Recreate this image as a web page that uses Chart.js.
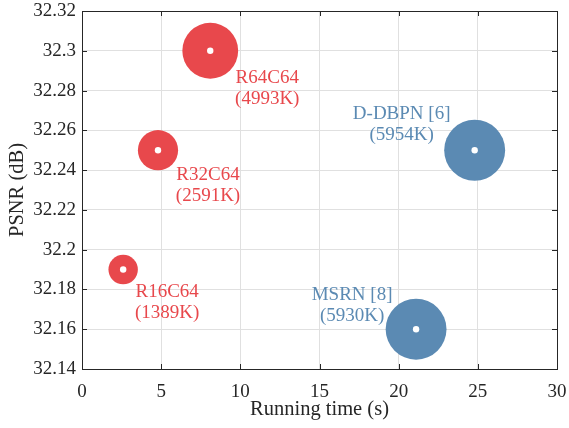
<!DOCTYPE html>
<html>
<head>
<meta charset="utf-8">
<script src="https://cdn.jsdelivr.net/npm/chart.js@4/dist/chart.umd.min.js"></script>
<style>
  html, body { margin: 0; padding: 0; background: #fff; }
  #wrap { width: 569px; height: 428px; }
</style>
</head>
<body>
<div id="wrap"><canvas id="bubbleChart" width="569" height="428"></canvas></div>
<script>
// --- DATA ---
const models = ['R16C64', 'R32C64', 'R64C64', 'D-DBPN [6]', 'MSRN [8]'];
const runTime = [2.6, 4.8, 8.1, 24.8, 21.1];            // seconds
const psnr = [32.19, 32.25, 32.30, 32.25, 32.16];        // dB
const paramsK = [1389, 2591, 4993, 5954, 5930];         // parameters (K)
const isOurs = [true, true, true, false, false];

const xTicks = [0, 5, 10, 15, 20, 25, 30];
const yTicks = [32.14, 32.16, 32.18, 32.2, 32.22, 32.24, 32.26, 32.28, 32.3, 32.32];
const yTickLabels = ['32.14', '32.16', '32.18', '32.2', '32.22', '32.24', '32.26', '32.28', '32.3', '32.32'];

// --- STYLE ---
const RED = '#E8484C';
const BLUE = '#5B8AB3';
const INK = '#262626';
const GRID = '#e0e0e0';
const SERIF = '"Liberation Serif", "DejaVu Serif", serif';

// label placement relative to bubble centre (px): [dx, dy of first line]
const labelOffsets = {
    'R16C64': [44, 22],
    'R32C64': [50, 25],
    'R64C64': [57, 27],
    'D-DBPN [6]': [-73, -36],
    'MSRN [8]': [-64, -34]
};
const LINE_H = 21;

const radiusOf = k => 0.395 * Math.sqrt(k);

function points(filter) {
    return models.map((m, i) => ({ x: runTime[i], y: psnr[i], r: radiusOf(paramsK[i]), name: m, k: paramsK[i], ours: isOurs[i] }))
        .filter(filter);
}

const noPad = s => { s.paddingTop = 0; s.paddingBottom = 0; s.paddingLeft = 0; s.paddingRight = 0; };

// --- PLUGIN: labels, box and inward ticks ---
const decorations = {
    id: 'decorations',
    afterDatasetsDraw(chart) {
        const { ctx, scales: { x, y } } = chart;
        ctx.save();
        ctx.font = '19px ' + SERIF;
        ctx.textAlign = 'center';
        ctx.textBaseline = 'middle';
        models.forEach((m, i) => {
            const px = x.getPixelForValue(runTime[i]);
            const py = y.getPixelForValue(psnr[i]);
            const [dx, dy] = labelOffsets[m];
            ctx.fillStyle = isOurs[i] ? RED : BLUE;
            ctx.fillText(m, px + dx, py + dy);
            ctx.fillText('(' + paramsK[i] + 'K)', px + dx, py + dy + LINE_H);
        });
        ctx.restore();
    },
    afterDraw(chart) {
        const { ctx, chartArea: a, scales: { x, y } } = chart;
        ctx.save();
        ctx.strokeStyle = INK;
        ctx.lineWidth = 1;
        const tl = 5;
        ctx.beginPath();
        xTicks.forEach(v => {
            const px = Math.round(x.getPixelForValue(v)) + 0.5;
            ctx.moveTo(px, a.bottom); ctx.lineTo(px, a.bottom - tl);
            ctx.moveTo(px, a.top); ctx.lineTo(px, a.top + tl);
        });
        yTicks.forEach(v => {
            const py = Math.round(y.getPixelForValue(v)) + 0.5;
            ctx.moveTo(a.left, py); ctx.lineTo(a.left + tl, py);
            ctx.moveTo(a.right, py); ctx.lineTo(a.right - tl, py);
        });
        ctx.stroke();
        ctx.strokeRect(Math.round(a.left) + 0.5, Math.round(a.top) + 0.5,
            Math.round(a.right - a.left), Math.round(a.bottom - a.top));
        ctx.restore();
    }
};

// --- CHART ---
function renderBubbleChart() {
    const ctx = document.getElementById('bubbleChart').getContext('2d');
    new Chart(ctx, {
        type: 'bubble',
        data: {
            datasets: [
                {
                    label: 'dots',
                    type: 'scatter',
                    data: points(() => true),
                    pointRadius: 3.2,
                    pointBackgroundColor: '#ffffff',
                    pointBorderWidth: 0,
                    order: 0
                },
                {
                    label: 'Ours',
                    data: points(p => p.ours),
                    backgroundColor: RED,
                    borderWidth: 0,
                    order: 1
                },
                {
                    label: 'Others',
                    data: points(p => !p.ours),
                    backgroundColor: BLUE,
                    borderWidth: 0,
                    order: 1
                }
            ]
        },
        options: {
            responsive: false,
            animation: false,
            layout: { autoPadding: false, padding: { top: 11, right: 12, left: 0, bottom: 0 } },
            plugins: {
                legend: { display: false },
                tooltip: { enabled: false }
            },
            scales: {
                x: {
                    type: 'linear',
                    min: 0,
                    max: 30,
                    afterBuildTicks: s => { s.ticks = xTicks.map(v => ({ value: v })); },
                    afterFit: s => { s.height = 59; noPad(s); },
                    ticks: { color: INK, font: { family: SERIF, size: 19 }, padding: 12, maxRotation: 0 },
                    grid: { color: GRID, drawTicks: false },
                    border: { display: false },
                    title: { display: true, text: 'Running time (s)', color: INK, font: { family: SERIF, size: 20.5 }, padding: { top: 0, bottom: 6 } }
                },
                y: {
                    type: 'linear',
                    min: 32.14,
                    max: 32.32,
                    afterBuildTicks: s => { s.ticks = yTicks.map(v => ({ value: v })); },
                    afterFit: s => { s.width = 82; noPad(s); },
                    ticks: { color: INK, font: { family: SERIF, size: 19 }, padding: 6, callback: (v, i) => yTickLabels[i] },
                    grid: { color: GRID, drawTicks: false },
                    border: { display: false },
                    title: { display: true, text: 'PSNR (dB)', color: INK, font: { family: SERIF, size: 20.5 }, padding: { top: 5, bottom: 0 } }
                }
            }
        },
        plugins: [decorations]
    });
}

window.onload = function () {
    renderBubbleChart();
};
</script>
</body>
</html>
